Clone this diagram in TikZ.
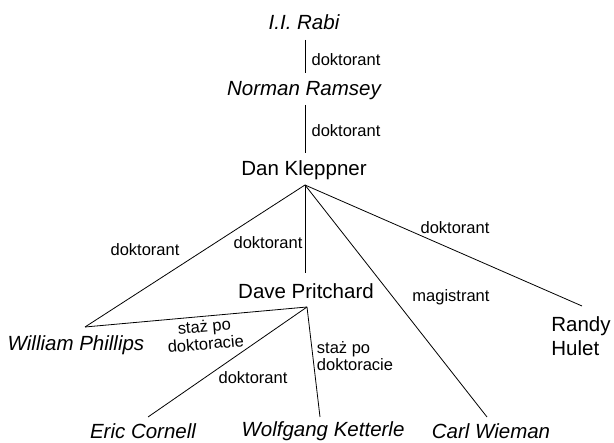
\documentclass[tikz,border=0pt]{standalone}
\usepackage{fontspec}
\setmainfont{Liberation Sans}
\begin{document}
\begin{tikzpicture}[x=1pt,y=-1pt,
  person/.style={inner sep=0pt,font=\fontsize{20.5}{24}\selectfont},
  iperson/.style={person,font=\fontsize{20.5}{24}\selectfont\itshape},
  rel/.style={inner sep=0pt,font=\fontsize{16.5}{17.5}\selectfont},
  link/.style={line width=0.8pt}]
\useasboundingbox (0,0) rectangle (614,443);
% people
\node[iperson] (rabi) at (304,22) {I.I. Rabi};
\node[iperson] (ramsey) at (304,91) {Norman Ramsey};
\node[person] (kleppner) at (304,170) {Dan Kleppner};
\node[person] (pritchard) at (306,291) {Dave Pritchard};
\node[iperson] (phillips) at (76,345) {William Phillips};
\node[person,align=left] (hulet) at (581,336) {Randy\\Hulet};
\node[iperson] (cornell) at (143,431) {Eric Cornell};
\node[iperson] (ketterle) at (323,431) {Wolfgang Ketterle};
\node[iperson] (wieman) at (491,431) {Carl Wieman};
% connector ends
\coordinate (rabiB) at (305,40);
\coordinate (ramseyT) at (305,73);
\coordinate (ramseyB) at (305,105);
\coordinate (kleppnerT) at (305,153);
\coordinate (kleppnerB) at (305,185);
\coordinate (pritchardT) at (305,273);
\coordinate (pritchardB) at (307,307);
\coordinate (phillipsT) at (85,327);
\coordinate (huletT) at (582,306);
\coordinate (cornellT) at (148,417);
\coordinate (ketterleT) at (320,417);
\coordinate (wiemanT) at (487,417);
% connectors
\draw[link] (rabiB) -- (ramseyT);
\draw[link] (ramseyB) -- (kleppnerT);
\draw[link] (kleppnerB) -- (phillipsT);
\draw[link] (kleppnerB) -- (pritchardT);
\draw[link] (kleppnerB) -- (wiemanT);
\draw[link] (kleppnerB) -- (huletT);
\draw[link] (phillipsT) -- (pritchardB);
\draw[link] (pritchardB) -- (cornellT);
\draw[link] (pritchardB) -- (ketterleT);
% labels
\node[rel] (l1) at (346,60) {doktorant};
\node[rel] (l2) at (346,131) {doktorant};
\node[rel] (l3) at (145,250) {doktorant};
\node[rel] (l4) at (268,243) {doktorant};
\node[rel] (l5) at (455,228) {doktorant};
\node[rel] (l6) at (451,297) {magistrant};
\node[rel,align=center,rotate=5] (l7) at (205,335) {staż po\\doktoracie};
\node[rel] (l8) at (253,378) {doktorant};
\node[rel,align=left] (l9) at (355,356) {staż po\\doktoracie};
\end{tikzpicture}
\end{document}
